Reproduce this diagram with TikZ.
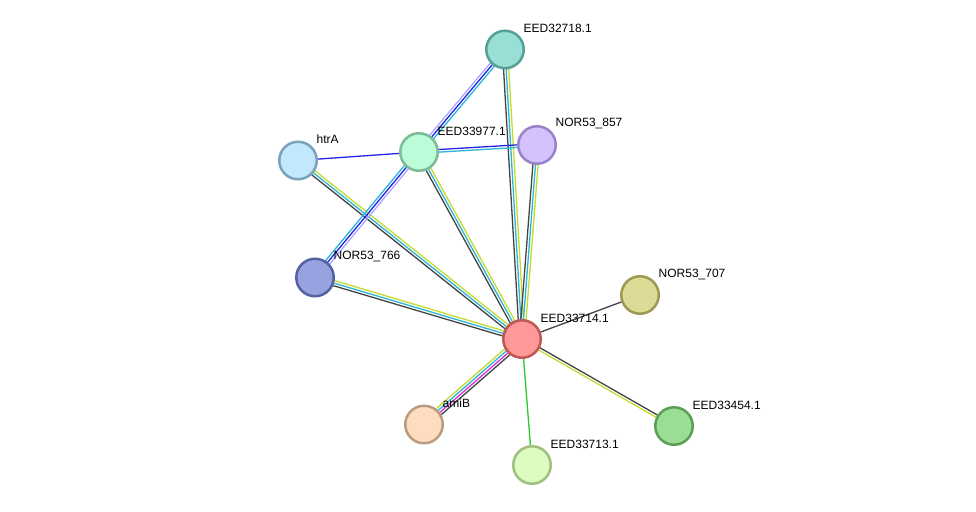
\documentclass[tikz,border=0pt]{standalone}
\usepackage{fontspec}
\setmainfont{Liberation Sans}
\usepackage{xcolor}
\usetikzlibrary{calc,backgrounds}

\definecolor{coexp}{HTML}{444444}
\definecolor{textm}{HTML}{C6DA30}
\definecolor{dbase}{HTML}{2BB6D6}
\definecolor{cooc}{HTML}{2424E8}
\definecolor{homol}{HTML}{ABA8FC}
\definecolor{exper}{HTML}{DD2FDD}
\definecolor{neigh}{HTML}{2BCB2B}

\tikzset{
  prot/.style={circle, minimum size=37.5pt, inner sep=0pt, line width=2.5pt},
  tag/.style={anchor=west, inner sep=0pt, font=\fontsize{12}{14}\selectfont},
  edge/.style={line width=1.3pt},
}

% one coloured strand of an edge, shifted sideways by #1 pt
\newcommand{\strand}[4][0]{\draw[edge,#4] ($(#2)!#1pt!90:(#3)$) -- ($(#3)!#1pt!-90:(#2)$);}

\begin{document}
\begin{tikzpicture}[x=1pt,y=-1pt]
	\useasboundingbox (0,0) rectangle (976,511);

	\node[prot, fill={rgb,255:red,152;green,223;blue,214}, draw={rgb,255:red,86;green,160;blue,152}] (ed718) at (505,49.5) {};
	\node[prot, fill={rgb,255:red,212;green,194;blue,252}, draw={rgb,255:red,154;green,130;blue,200}] (n857) at (537,145) {};
	\node[prot, fill={rgb,255:red,189;green,252;blue,216}, draw={rgb,255:red,123;green,187;blue,152}] (ed977) at (419,152) {};
	\node[prot, fill={rgb,255:red,194;green,232;blue,252}, draw={rgb,255:red,122;green,162;blue,189}] (htra) at (298,160.5) {};
	\node[prot, fill={rgb,255:red,152;green,162;blue,224}, draw={rgb,255:red,85;green,98;blue,160}] (n766) at (315,277.5) {};
	\node[prot, fill={rgb,255:red,255;green,152;blue,152}, draw={rgb,255:red,192;green,86;blue,86}] (ed714) at (522,339) {};
	\node[prot, fill={rgb,255:red,222;green,219;blue,150}, draw={rgb,255:red,156;green,154;blue,82}] (n707) at (640,295) {};
	\node[prot, fill={rgb,255:red,154;green,222;blue,149}, draw={rgb,255:red,91;green,158;blue,86}] (ed454) at (674,426) {};
	\node[prot, fill={rgb,255:red,253;green,220;blue,192}, draw={rgb,255:red,188;green,156;blue,128}] (amib) at (424,424.5) {};
	\node[prot, fill={rgb,255:red,223;green,252;blue,192}, draw={rgb,255:red,160;green,192;blue,128}] (ed713) at (532,465) {};

	\node[tag] (t-ed718) at ([shift={(18.5,-21)}]ed718) {EED32718.1};
	\node[tag] (t-n857) at ([shift={(18.5,-21)}]n857) {NOR53\_857};
	\node[tag] (t-ed977) at ([shift={(18.5,-21)}]ed977) {EED33977.1};
	\node[tag] (t-htra) at ([shift={(18.5,-21)}]htra) {htrA};
	\node[tag] (t-n766) at ([shift={(18.5,-21)}]n766) {NOR53\_766};
	\node[tag] (t-ed714) at ([shift={(18.5,-21)}]ed714) {EED33714.1};
	\node[tag] (t-n707) at ([shift={(18.5,-21)}]n707) {NOR53\_707};
	\node[tag] (t-ed454) at ([shift={(18.5,-21)}]ed454) {EED33454.1};
	\node[tag] (t-amib) at ([shift={(18.5,-21)}]amib) {amiB};
	\node[tag] (t-ed713) at ([shift={(18.5,-21)}]ed713) {EED33713.1};

	\begin{pgfonlayer}{background}
		\fill[white] (0,0) rectangle (976,511);
		% edges, one strand per evidence channel
		\strand[2.6]{ed977}{ed718}{homol}
		\strand{ed977}{ed718}{cooc}
		\strand[-2.6]{ed977}{ed718}{dbase}

		\strand[2.6]{ed718}{ed714}{textm}
		\strand{ed718}{ed714}{dbase}
		\strand[-2.6]{ed718}{ed714}{coexp}

		\strand[1.3]{ed977}{n857}{cooc}
		\strand[-1.3]{ed977}{n857}{dbase}

		\strand[2.6]{n857}{ed714}{textm}
		\strand{n857}{ed714}{dbase}
		\strand[-2.6]{n857}{ed714}{coexp}

		\strand{htra}{ed977}{cooc}

		\strand[2.6]{htra}{ed714}{textm}
		\strand{htra}{ed714}{dbase}
		\strand[-2.6]{htra}{ed714}{coexp}

		\strand[2.6]{n766}{ed977}{dbase}
		\strand{n766}{ed977}{cooc}
		\strand[-2.6]{n766}{ed977}{homol}

		\strand[2.6]{ed977}{ed714}{textm}
		\strand{ed977}{ed714}{dbase}
		\strand[-2.6]{ed977}{ed714}{coexp}

		\strand[2.6]{n766}{ed714}{textm}
		\strand{n766}{ed714}{dbase}
		\strand[-2.6]{n766}{ed714}{coexp}

		\strand{ed714}{n707}{coexp}

		\strand[1.3]{ed714}{ed454}{coexp}
		\strand[-1.3]{ed714}{ed454}{textm}

		\strand[3.9]{amib}{ed714}{textm}
		\strand[1.3]{amib}{ed714}{dbase}
		\strand[-1.3]{amib}{ed714}{exper}
		\strand[-3.9]{amib}{ed714}{coexp}

		\strand{ed714}{ed713}{neigh}
	\end{pgfonlayer}
\end{tikzpicture}
\end{document}
